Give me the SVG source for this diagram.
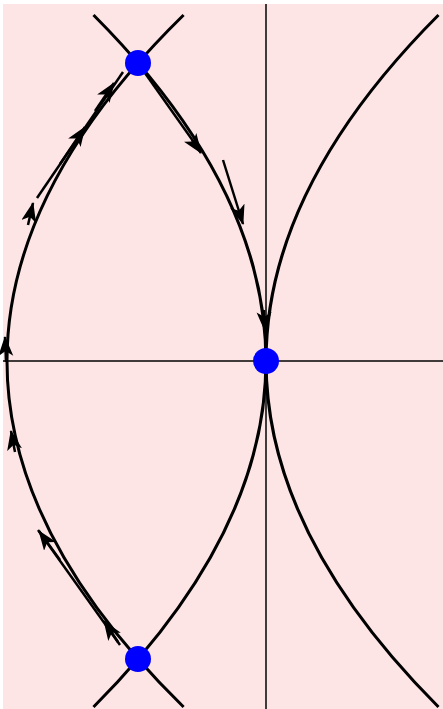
<svg xmlns="http://www.w3.org/2000/svg" width="443" height="709" viewBox="0 0 443 709">
  <style>
    .axis { stroke: #000; stroke-width: 1.5; fill: none; }
    .sep { stroke: #000; stroke-width: 3; fill: none; }
    .traj { stroke: #000; stroke-width: 2.5; fill: none; }
    .arr { stroke: #000; stroke-width: 2.5; fill: none; marker-end: url(#ah); }
    .pt { fill: #0000ff; }
  </style>
  <defs>
    <marker id="ah" markerUnits="userSpaceOnUse" markerWidth="22" markerHeight="16" refX="19" refY="7.5" orient="auto">
      <path d="M0,0 L20,7.5 L0,15 L5,7.5 z" fill="#000"/>
    </marker>
  </defs>
  <rect x="0" y="0" width="443" height="709" fill="#ffffff"/>
  <rect id="background" x="3" y="4" width="440" height="705" fill="#fde5e5"/>
  <g id="axes">
    <line class="axis" x1="266" y1="4" x2="266" y2="709"/>
    <line class="axis" x1="3" y1="361" x2="443" y2="361"/>
  </g>
  <g id="connectors">
    <path id="sep-left" class="sep" d="M183.6,15 Q-169.6,361 183.6,707"/>
    <path id="sep-mid" class="sep" d="M93.5,15 Q438.5,361 93.5,707"/>
    <path id="sep-right" class="sep" d="M438.5,15 Q93.5,361 438.5,707"/>
    <g id="trajectory">
      <path class="traj" d="M37,198 L123,72"/>
      <path class="traj" d="M120,645 L38,530"/>
      <path class="traj" d="M140,66 L198,148"/>
      <path class="arr" d="M223,160 L243,224"/>
      <path class="arr" d="M192,140 L201,153"/>
      <path class="arr" d="M264,310 L265,331"/>
      <path class="arr" d="M60,164 L85,127"/>
      <path class="arr" d="M95,111 L114,83"/>
      <path class="arr" d="M28,225 L33,203"/>
      <path class="arr" d="M6,362 L5,337"/>
      <path class="arr" d="M15,452 L11,431"/>
      <path class="arr" d="M60,560 L39,531"/>
      <path class="arr" d="M118,642 L104,621"/>
    </g>
  </g>
  <g id="node-top"><circle class="pt" cx="138" cy="63" r="13"/></g>
  <g id="node-origin"><circle class="pt" cx="266" cy="361" r="13"/></g>
  <g id="node-bottom"><circle class="pt" cx="138" cy="659" r="13"/></g>
</svg>
